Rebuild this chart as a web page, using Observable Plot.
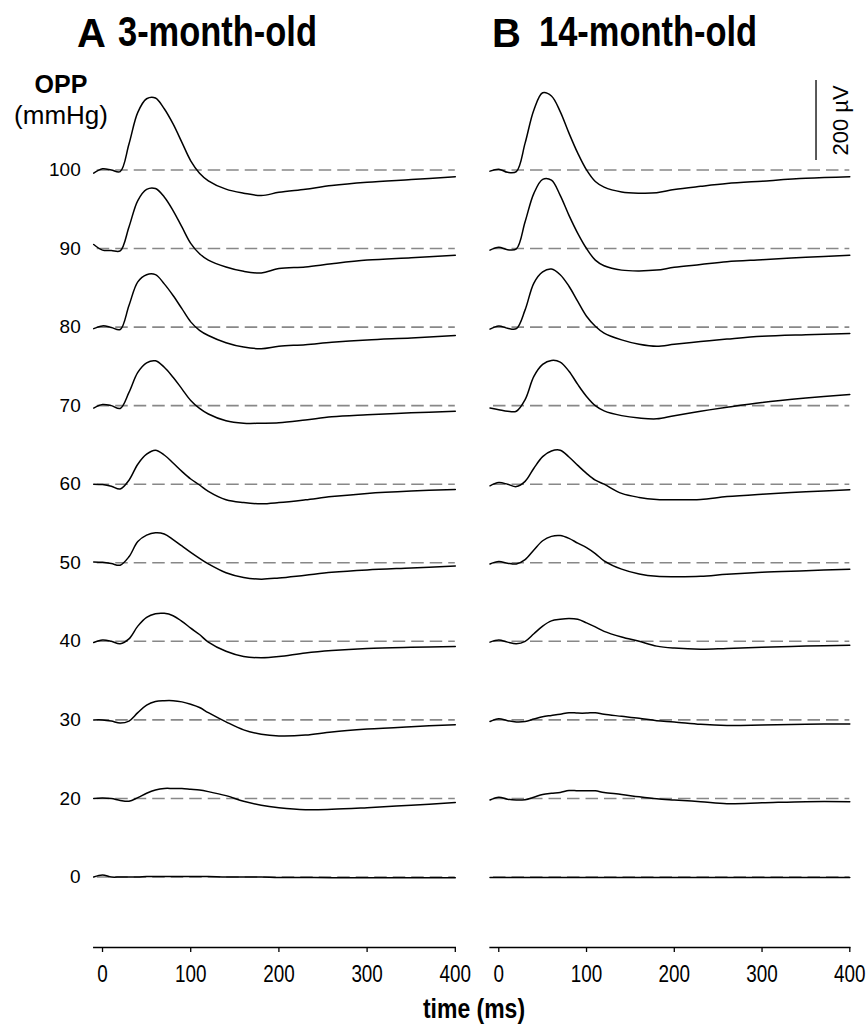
<!DOCTYPE html>
<html><head><meta charset="utf-8">
<script src="https://cdn.jsdelivr.net/npm/d3@7"></script>
<script src="https://cdn.jsdelivr.net/npm/@observablehq/plot@0.6"></script>
<style>
body{margin:0;background:#fff;}
#wrap{position:relative;width:866px;height:1036px;font-family:"Liberation Sans",Arial,Helvetica,sans-serif;color:#000;overflow:hidden;}
.t{position:absolute;white-space:nowrap;line-height:1;}
.narrow{transform:scaleX(0.82);transform-origin:0 0;}
</style></head><body><div id="wrap"></div>
<script>
// time samples (ms)
const time = [-10, 0, 10, 20, 30, 40, 50, 60, 70, 80, 90, 100, 110, 120, 140, 160, 180, 200, 230, 260, 300, 350, 400];
// OPP levels (mmHg), top to bottom
const oppLevels = [100, 90, 80, 70, 60, 50, 40, 30, 20, 0];
const xTicks = [0, 100, 200, 300, 400];

// Panel A: 3-month-old, responses in µV
const a100 = [-8, 3, 0, -4, 65, 144, 178, 180, 153, 115, 69, 23, -8, -27, -48, -58, -64, -56, -48, -39, -31, -24, -17];
const a90  = [10, -4, -5, -6, 54, 120, 148, 150, 129, 95, 54, 13, -13, -29, -46, -57, -61, -50, -46, -38, -29, -23, -17];
const a80  = [-4, 3, -1, -6, 54, 113, 131, 131, 108, 79, 46, 13, -8, -21, -39, -50, -54, -48, -44, -38, -32, -27, -21];
const a70  = [-6, 3, 0, -7, 33, 83, 107, 112, 96, 71, 42, 13, -7, -21, -38, -44, -44, -43, -36, -28, -23, -18, -14];
const a60  = [0, -1, -5, -12, 10, 50, 75, 85, 73, 53, 32, 13, -2, -18, -39, -46, -49, -46, -39, -31, -23, -17, -13];
const a50  = [2, 1, -2, -6, 15, 53, 69, 75, 72, 58, 42, 26, 11, -3, -25, -37, -41, -38, -31, -24, -18, -13, -8];
const a40  = [-3, 3, 0, -6, 6, 38, 60, 69, 70, 64, 50, 33, 17, -2, -25, -38, -41, -38, -29, -23, -18, -15, -13];
const a30  = [0, 0, -3, -8, -3, 18, 37, 46, 48, 48, 45, 39, 31, 18, -5, -25, -36, -40, -38, -30, -23, -17, -12];
const a20  = [0, 1, 0, -5, -7, 2, 13, 21, 25, 25, 25, 23, 21, 17, 7, -7, -17, -23, -28, -27, -23, -17, -10];
const a0   = [0, 5, 0, 0, 0, 0, 1, 1, 1, 1, 1, 1, 1, 1, 0, 0, 0, -1, -1, -2, -2, -2, -2];

// Panel B: 14-month-old, responses in µV
const b100 = [-3, 2, -6, -4, 67, 150, 193, 185, 146, 92, 42, 0, -29, -43, -55, -58, -57, -49, -41, -34, -28, -21, -17];
const b90  = [-4, 3, -3, -1, 67, 138, 173, 171, 133, 83, 38, 0, -29, -43, -54, -56, -54, -47, -40, -33, -28, -22, -17];
const b80  = [-5, 3, -3, -4, 43, 110, 138, 145, 131, 102, 64, 27, 2, -15, -32, -43, -48, -43, -36, -30, -23, -19, -16];
const b70  = [-6, -10, -14, -14, 15, 73, 103, 113, 109, 86, 53, 23, 0, -13, -25, -31, -33, -25, -14, -4, 8, 19, 28];
const b60  = [-4, 4, 0, -6, 7, 40, 69, 83, 85, 68, 47, 27, 10, 0, -23, -33, -38, -39, -38, -31, -25, -19, -14];
const b50  = [-3, 3, -1, -3, 8, 32, 55, 66, 68, 61, 49, 38, 23, 5, -16, -28, -34, -35, -34, -29, -24, -20, -16];
const b40  = [-2, 3, -2, -6, 0, 19, 38, 51, 55, 57, 55, 46, 36, 25, 11, 0, -12, -17, -20, -18, -15, -12, -10];
const b30  = [-4, 3, -2, -5, -4, 2, 8, 11, 14, 18, 17, 17, 18, 14, 9, 4, -2, -5, -11, -14, -13, -11, -10];
const b20  = [-4, 3, -2, -4, -3, 3, 10, 13, 15, 20, 19, 19, 19, 15, 10, 4, -1, -4, -8, -13, -11, -8, -8];
const b0   = [-1, -1, -1, -1, -1, -1, -1, -1, -1, -1, -1, -1, -1, -1, -1, -1, -1, -1, -1, -1, -1, -1, -1];

const scaleBarUV = 200;

// ---- layout ----
const H = 1036, MT = 60, MB = 89;
const PX_PER_UV = 0.4;
const ROW = 196.4;               // vertical offset between traces (µV)
const Y_MIN = -176.25;
const Y_MAX = Y_MIN + (H - MT - MB) / PX_PER_UV;
const nRows = oppLevels.length;
const slotOf = i => (nRows - 1 - i) * ROW;
const labelMap = new Map(oppLevels.map((l, i) => [slotOf(i), String(l)]));

function build(traces) {
  const out = [];
  traces.forEach((arr, i) => arr.forEach((v, j) => out.push({level: oppLevels[i], t: time[j], y: slotOf(i) + v})));
  return out;
}
const baselines = oppLevels.map((l, i) => slotOf(i));

function panel({traces, width, marginLeft, marginRight, yAxis, scaleBar}) {
  const marks = [
    Plot.ruleY(baselines, {y: d => d, x1: () => -6, x2: () => 400, stroke: "#888", strokeWidth: 1.6, strokeDasharray: "12.5,6"}),
    Plot.line(build(traces), {x: "t", y: "y", z: "level", curve: "catmull-rom", stroke: "#000", strokeWidth: 1.5}),
    Plot.frame({anchor: "bottom", stroke: "#000", strokeWidth: 1.3}),
    Plot.axisX(xTicks, {tickSize: 5, tickPadding: 13, fontSize: 23, label: null, strokeWidth: 1.3})
  ];
  if (yAxis) marks.push(Plot.axisY(baselines, {tickSize: 0, tickPadding: 13, fontSize: 19, label: null, tickFormat: d => labelMap.get(d)}));
  if (scaleBar) {
    const barBottom = Y_MIN + (H - MB - 160) / PX_PER_UV;
    marks.push(Plot.ruleX([361.5], {x: d => d, y1: () => barBottom, y2: () => barBottom + scaleBarUV, stroke: "#000", strokeWidth: 1.3}));
    marks.push(Plot.text([scaleBarUV + " µV"], {x: () => 390, y: () => barBottom + scaleBarUV / 2, text: d => d, rotate: -90, fontSize: 22, fill: "#000"}));
  }
  const svg = Plot.plot({
    width, height: H, marginTop: MT, marginBottom: MB, marginLeft, marginRight,
    x: {domain: [-10, 400], axis: null},
    y: {domain: [Y_MIN, Y_MAX], axis: null},
    style: {fontFamily: '"Liberation Sans", Arial, sans-serif', color: "#000", background: "transparent", overflow: "visible"},
    marks
  });
  svg.querySelectorAll('g[aria-label="x-axis tick label"] text').forEach(t => {
    const tr = t.getAttribute("transform") || "";
    t.setAttribute("transform", tr + " scale(0.82,1)");
  });
  svg.style.position = "absolute";
  svg.style.top = "0px";
  svg.style.overflow = "visible";
  return svg;
}

const wrap = document.getElementById("wrap");
const svgA = panel({traces: [a100, a90, a80, a70, a60, a50, a40, a30, a20, a0], width: 460, marginLeft: 93.2, marginRight: 5.2, yAxis: true});
svgA.style.left = "0px";
const svgB = panel({traces: [b100, b90, b80, b70, b60, b50, b40, b30, b20, b0], width: 406, marginLeft: 29.5, marginRight: 16.7, scaleBar: true});
svgB.style.left = "460px";
wrap.appendChild(svgA);
wrap.appendChild(svgB);

function addText(txt, css, cls) {
  const d = document.createElement("div");
  d.className = "t" + (cls ? " " + cls : "");
  d.textContent = txt;
  Object.assign(d.style, css);
  wrap.appendChild(d);
  return d;
}
// Titles
addText("A", {left: "77px", top: (47 - 0.8465 * 40) + "px", fontSize: "40px", fontWeight: "bold"});
addText("3-month-old", {left: "118px", top: (47 - 0.8465 * 42) + "px", fontSize: "42px", fontWeight: "bold"}, "narrow");
addText("B", {left: "492px", top: (47 - 0.8465 * 40) + "px", fontSize: "40px", fontWeight: "bold"});
addText("14-month-old", {left: "539px", top: (47 - 0.8465 * 42) + "px", fontSize: "42px", fontWeight: "bold"}, "narrow");
// Y label
addText("OPP", {left: "1px", width: "120px", textAlign: "center", top: (93 - 0.8465 * 25) + "px", fontSize: "25px", fontWeight: "bold"});
addText("(mmHg)", {left: "1px", width: "120px", textAlign: "center", top: (124.5 - 0.8465 * 26) + "px", fontSize: "26px"});
// X label
addText("time (ms)", {left: "374px", width: "200px", textAlign: "center", top: (1019 - 0.8465 * 28) + "px", fontSize: "28px", fontWeight: "bold", transform: "scaleX(0.82)", transformOrigin: "50% 50%"});
</script></body></html>
